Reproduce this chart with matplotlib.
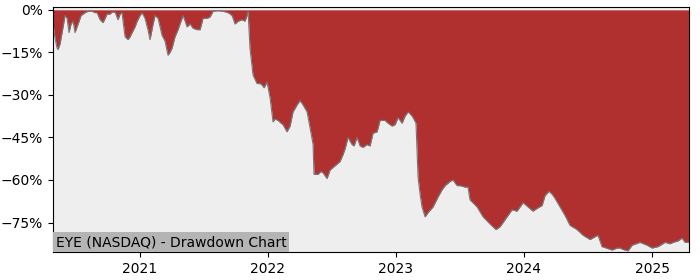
import numpy as np
import pandas as pd
from matplotlib import pyplot as plt
from matplotlib.ticker import MultipleLocator, PercentFormatter
import matplotlib.dates as mdates

# 日期（小数年份）与回撤值（%）
years = [
    2020.320, 2020.336, 2020.352, 2020.359, 2020.375, 2020.391, 2020.414, 2020.430,
    2020.445, 2020.461, 2020.477, 2020.492, 2020.516, 2020.539, 2020.570, 2020.594,
    2020.625, 2020.648, 2020.664, 2020.688, 2020.711, 2020.727, 2020.742, 2020.766,
    2020.781, 2020.805, 2020.828, 2020.844, 2020.859, 2020.883, 2020.906, 2020.922,
    2020.938, 2020.961, 2020.977, 2021.000, 2021.016, 2021.039, 2021.062, 2021.078,
    2021.102, 2021.117, 2021.141, 2021.172, 2021.195, 2021.219, 2021.234, 2021.250,
    2021.273, 2021.297, 2021.312, 2021.336, 2021.352, 2021.367, 2021.391, 2021.414,
    2021.445, 2021.469, 2021.492, 2021.523, 2021.547, 2021.570, 2021.609, 2021.648,
    2021.688, 2021.719, 2021.742, 2021.766, 2021.797, 2021.820, 2021.836, 2021.844,
    2021.859, 2021.875, 2021.883, 2021.914, 2021.938, 2021.953, 2021.969, 2021.992,
    2022.016, 2022.039, 2022.055, 2022.078, 2022.102, 2022.117, 2022.148, 2022.172,
    2022.195, 2022.227, 2022.250, 2022.273, 2022.305, 2022.328, 2022.352, 2022.359,
    2022.391, 2022.414, 2022.430, 2022.461, 2022.484, 2022.523, 2022.562, 2022.586,
    2022.602, 2022.625, 2022.656, 2022.672, 2022.695, 2022.719, 2022.742, 2022.773,
    2022.797, 2022.820, 2022.852, 2022.875, 2022.914, 2022.938, 2022.969, 2022.992,
    2023.016, 2023.047, 2023.070, 2023.094, 2023.117, 2023.133, 2023.156, 2023.172,
    2023.188, 2023.203, 2023.227, 2023.250, 2023.289, 2023.328, 2023.359, 2023.383,
    2023.422, 2023.445, 2023.477, 2023.500, 2023.539, 2023.562, 2023.578, 2023.633,
    2023.680, 2023.734, 2023.781, 2023.812, 2023.836, 2023.867, 2023.906, 2023.945,
    2023.969, 2023.992, 2024.031, 2024.070, 2024.102, 2024.141, 2024.164, 2024.195,
    2024.219, 2024.242, 2024.281, 2024.320, 2024.359, 2024.414, 2024.461, 2024.516,
    2024.555, 2024.578, 2024.609, 2024.641, 2024.688, 2024.727, 2024.750, 2024.773,
    2024.812, 2024.844, 2024.875, 2024.906, 2024.961, 2025.000, 2025.047, 2025.102,
    2025.141, 2025.164, 2025.203, 2025.234, 2025.258, 2025.281, 2025.289,
]
drawdown = [
    -5.0, -10.0, -13.5, -14.0, -12.0, -8.0, -2.0, -3.0,
    -8.0, -5.0, -4.0, -8.0, -5.0, -2.0, -1.0, -0.5,
    -0.5, -1.0, -1.0, -3.5, -4.5, -3.0, -1.5, -1.5,
    -0.8, -0.8, -3.5, -1.5, -1.0, -9.5, -10.5, -9.5,
    -8.0, -6.0, -4.0, -2.0, -1.0, -3.0, -7.0, -10.5,
    -5.0, -2.0, -3.0, -9.0, -11.0, -16.0, -15.0, -13.5,
    -9.5, -7.0, -5.0, -2.0, -4.0, -6.0, -5.0, -6.5,
    -7.0, -7.0, -3.0, -3.0, -2.5, -0.5, -0.3, -0.5,
    -1.0, -2.0, -5.0, -4.0, -3.5, -4.0, -2.0, -0.5,
    -13.5, -20.0, -23.0, -26.0, -26.0, -26.5, -27.5, -25.5,
    -31.0, -39.5, -38.5, -39.0, -40.0, -40.5, -43.0, -41.0,
    -36.0, -33.5, -32.0, -33.5, -36.0, -41.5, -47.5, -58.0,
    -58.0, -57.0, -57.5, -59.5, -56.5, -55.0, -53.5, -51.0,
    -49.0, -45.0, -47.5, -48.0, -45.0, -48.0, -48.5, -47.5,
    -48.0, -43.5, -43.0, -39.0, -39.0, -40.0, -41.0, -40.5,
    -38.0, -40.0, -37.5, -36.0, -37.0, -38.0, -40.0, -59.0,
    -65.0, -69.5, -73.0, -71.5, -69.5, -66.0, -63.5, -62.0,
    -60.5, -60.0, -62.0, -62.0, -62.5, -62.5, -67.0, -69.5,
    -73.0, -75.5, -77.5, -76.5, -75.0, -73.0, -70.5, -71.0,
    -69.5, -68.0, -69.5, -71.0, -70.0, -69.0, -65.5, -64.0,
    -65.0, -66.5, -69.5, -72.5, -76.0, -77.5, -79.5, -81.0,
    -80.0, -79.5, -83.5, -84.0, -84.7, -84.0, -84.0, -84.5,
    -85.0, -83.0, -82.5, -82.0, -83.0, -84.0, -83.5, -82.0,
    -82.5, -82.0, -81.5, -80.5, -82.0, -82.0, -82.0,
]
ticker_label = 'EYE (NASDAQ) - Drawdown Chart'

yr = np.array(years)
dates = pd.to_datetime('2021-01-01') + pd.to_timedelta((yr - 2021) * 365.25, unit='D')
dd = np.array(drawdown)

fig = plt.figure(figsize=(7, 2.8), dpi=100)
ax = fig.add_axes([0.0757, 0.1, 0.9086, 0.875])
ax.set_facecolor('#eeeeee')
ax.fill_between(dates, dd, 0, color='#b03030', linewidth=0)
ax.plot(dates, dd, color='#777777', linewidth=0.8)

ax.set_xlim(dates[0], dates[-1])
ax.set_ylim(-85.4, 1.0)
ax.yaxis.set_major_locator(MultipleLocator(15))
ax.yaxis.set_major_formatter(PercentFormatter(decimals=0))
ax.xaxis.set_major_locator(mdates.YearLocator())
ax.xaxis.set_major_formatter(mdates.DateFormatter('%Y'))

ax.text(0.004, 0.012, ticker_label, transform=ax.transAxes, fontsize=10,
        va='bottom', ha='left',
        bbox=dict(facecolor='#b4b4b4', edgecolor='none', pad=2))

fig.savefig('out.png')
